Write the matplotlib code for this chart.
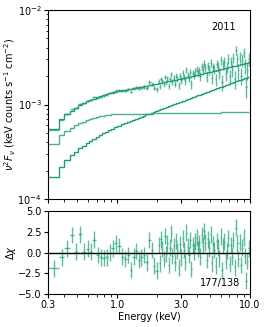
import numpy as np
import matplotlib
matplotlib.use("Agg")
import matplotlib.pyplot as plt
from matplotlib.ticker import FixedLocator, NullFormatter, LogLocator

# bin edges (keV)
edges = [0.30, 0.365, 0.40, 0.44, 0.475, 0.51, 0.545, 0.58, 0.615, 0.65,
         0.69, 0.73, 0.77, 0.81, 0.855, 0.90, 0.95, 1.00,
         1.06, 1.12, 1.18, 1.24, 1.30, 1.36, 1.42, 1.48, 1.55, 1.62,
         1.70, 1.78, 1.86, 1.94,
         2.02, 2.07, 2.11, 2.16, 2.21, 2.26, 2.31, 2.36, 2.41, 2.46,
         2.52, 2.57, 2.63, 2.69, 2.75, 2.81, 2.87, 2.94, 3.00, 3.07,
         3.14, 3.21, 3.28, 3.35, 3.43, 3.50, 3.58, 3.66, 3.74, 3.83,
         3.91, 4.00, 4.09, 4.18, 4.27, 4.37, 4.46, 4.56, 4.67, 4.77,
         4.88, 4.98, 5.10, 5.21, 5.32, 5.44, 5.56, 5.69, 5.82, 5.94,
         6.08, 6.21, 6.35, 6.49, 6.64, 6.79, 6.94, 7.09, 7.25, 7.41,
         7.58, 7.74, 7.92, 8.09, 8.27, 8.46, 8.65, 8.84, 9.04, 9.24,
         9.44, 9.65, 9.87]

# rising component (x1e-4 keV counts s-1 cm-2)
comp_pl = [1.70, 2.20, 2.59, 2.92, 3.17, 3.45, 3.67, 3.95, 4.15, 4.35,
           4.55, 4.75, 4.95, 5.12, 5.32, 5.52, 5.72,
           5.96, 6.17, 6.37, 6.56, 6.75, 6.93, 7.10, 7.28, 7.45, 7.63,
           7.84, 8.03, 8.22, 8.40, 8.58,
           8.74, 8.84, 8.94, 9.05, 9.15, 9.26, 9.36, 9.47, 9.57, 9.68,
           9.79, 9.90, 10.02, 10.14, 10.25, 10.37, 10.49, 10.61, 10.73, 10.86,
           10.99, 11.11, 11.24, 11.37, 11.50, 11.63, 11.76, 11.90, 12.04, 12.18,
           12.32, 12.46, 12.60, 12.75, 12.90, 13.04, 13.19, 13.35, 13.50, 13.66,
           13.81, 13.97, 14.14, 14.29, 14.45, 14.62, 14.79, 14.97, 15.14, 15.31,
           15.49, 15.66, 15.85, 16.03, 16.22, 16.41, 16.59, 16.78, 16.98, 17.17,
           17.37, 17.57, 17.77, 17.97, 18.18, 18.39, 18.61, 18.82, 19.04, 19.25,
           19.47, 19.70]

# flat component (x1e-4)
comp_flat = [3.82, 4.76, 5.28, 5.68, 6.02, 6.32, 6.58, 6.82, 7.02, 7.20,
             7.36, 7.50, 7.62, 7.72, 7.80, 7.86, 7.90,
             7.93, 7.96, 7.98, 8.00, 8.00, 8.01, 8.01, 8.02, 8.02, 8.02,
             8.03, 8.03, 8.03, 8.04, 8.04,
             8.04, 8.05, 8.05, 8.05, 8.06, 8.06, 8.06, 8.07, 8.07, 8.07,
             8.08, 8.08, 8.08, 8.09, 8.09, 8.09, 8.10, 8.10, 8.10, 8.11,
             8.11, 8.11, 8.12, 8.12, 8.12, 8.13, 8.13, 8.13, 8.14, 8.14,
             8.14, 8.15, 8.15, 8.16, 8.16, 8.16, 8.17, 8.17, 8.18, 8.18,
             8.19, 8.19, 8.20, 8.20, 8.21, 8.21, 8.22, 8.22, 8.23, 8.23,
             8.24, 8.24, 8.25, 8.25, 8.26, 8.26, 8.27, 8.27, 8.28, 8.28,
             8.29, 8.29, 8.30, 8.30, 8.31, 8.31, 8.32, 8.32, 8.33, 8.33,
             8.34, 8.34]

# residuals, delta chi
resid = [-1.9, -0.6, 0.5, 2.1, 0.1, 2.2, 0.1, 0.45, 0.1, 1.55,
         -0.3, -0.6, -0.65, -0.6, 0.0, 0.5, 1.1,
         0.8, -0.5, -0.8, -0.3, -2.1, -0.5, 0.2, -0.9, -0.6, -0.3,
         -1.2, 1.5, 0.3, -1.6, -2.2,
         0.9, -1.3, 1.6, 0.4, -0.8, 2.0, -0.2, 1.1, -1.5, 0.6,
         2.3, -0.4, 0.8, -1.2, 1.4, 0.2, -1.8, 1.0,
         -0.6, 1.7, 0.3, -1.1, 2.4, 0.7, -0.3, 1.5, -2.0, 0.9, 0.1, 1.3,
         1.8, 0.4, 1.1, -0.5, 2.1, 0.9, 2.6, 1.2, -0.9, 1.6,
         0.5, 2.2, -1.3, 1.0, 0.3,
         -1.6, 1.4, 0.6, -0.7, 1.9, -2.1, 0.8, 1.3, -1.0, 0.2,
         1.7, -1.4, 0.9, -0.5, 1.5, -1.8, 3.0, 1.1,
         -0.8, 1.2, -1.5, 0.6, 1.8, -0.4, -3.4, -1.0, 0.5]

# fractional flux error per bin
flux_relerr = [0.012, 0.013, 0.014, 0.015, 0.016, 0.017, 0.018, 0.019, 0.020, 0.021,
               0.022, 0.023, 0.024, 0.025, 0.026, 0.027, 0.028,
               0.030, 0.031, 0.032, 0.033, 0.034, 0.036, 0.038, 0.040, 0.042, 0.044,
               0.046, 0.048, 0.050, 0.053, 0.056,
               0.060, 0.062, 0.061, 0.064, 0.063, 0.066, 0.065, 0.068, 0.067, 0.070,
               0.071, 0.070, 0.073, 0.074, 0.073, 0.076, 0.077, 0.078, 0.077, 0.080,
               0.081, 0.080, 0.083, 0.084, 0.083, 0.086, 0.087, 0.088, 0.087, 0.090,
               0.092, 0.094, 0.096, 0.098, 0.097, 0.101, 0.104, 0.106, 0.105, 0.109,
               0.112, 0.111, 0.115, 0.118, 0.117, 0.121, 0.124, 0.126, 0.125, 0.129,
               0.132, 0.131, 0.135, 0.138, 0.137, 0.141, 0.144, 0.146, 0.145, 0.149,
               0.152, 0.151, 0.155, 0.158, 0.157, 0.161, 0.164, 0.166, 0.165, 0.130,
               0.170, 0.172]

col = "#1b9e77"

edges = np.array(edges)
lo, hi = edges[:-1], edges[1:]
ctr = 0.5 * (lo + hi)
pl = np.array(comp_pl) * 1e-4
flat = np.array(comp_flat) * 1e-4
total = pl + flat
ferr = np.array(flux_relerr) * total
resid = np.array(resid)
flux = total + resid * ferr

fig = plt.figure(figsize=(2.66, 3.27), dpi=100)
ax1 = fig.add_axes([0.180, 0.3914, 0.760, 0.578])
ax2 = fig.add_axes([0.180, 0.1009, 0.760, 0.2538])

fs = 7
ax1.errorbar(ctr, flux, xerr=[ctr - lo, hi - ctr], yerr=ferr, fmt="none",
             ecolor=col, alpha=0.7, elinewidth=1.0)
ax1.stairs(total, edges, color=col, lw=1.0, baseline=None)
ax1.stairs(pl, edges, color=col, lw=1.0, baseline=None)
ax1.stairs(flat, edges, color=col, lw=1.0, alpha=0.8, baseline=None)
ax1.set_xscale("log")
ax1.set_yscale("log")
ax1.set_xlim(0.3, 10)
ax1.set_ylim(1e-4, 1e-2)
ax1.set_ylabel(r"$\nu^2F_\nu$ (keV counts s$^{-1}$ cm$^{-2}$)", fontsize=fs)
ax1.text(0.87, 0.91, "2011", transform=ax1.transAxes, ha="center", va="center", fontsize=fs)

ax2.errorbar(ctr, resid, xerr=[ctr - lo, hi - ctr], yerr=np.ones_like(resid), fmt="none",
             ecolor=col, alpha=0.7, elinewidth=1.0)
ax2.axhline(0, color="black", lw=1.0)
ax2.set_xscale("log")
ax2.set_xlim(0.3, 10)
ax2.set_ylim(-5, 5)
ax2.set_yticks([-5, -2.5, 0, 2.5, 5])
ax2.set_yticklabels(["\u22125.0", "\u22122.5", "0.0", "2.5", "5.0"])
ax2.set_ylabel(r"$\Delta\chi$", fontsize=fs)
ax2.set_xlabel("Energy (keV)", fontsize=fs, labelpad=1)
ax2.text(0.85, 0.13, "177/138", transform=ax2.transAxes, ha="center", va="center", fontsize=fs)

for ax in (ax1, ax2):
    ax.xaxis.set_major_locator(FixedLocator([0.3, 1.0, 3.0, 10.0]))
    ax.xaxis.set_minor_locator(FixedLocator([0.4, 0.5, 0.6, 0.7, 0.8, 0.9, 2, 4, 5, 6, 7, 8, 9]))
    ax.xaxis.set_minor_formatter(NullFormatter())
    ax.tick_params(labelsize=fs, length=3, pad=1.5)
    ax.tick_params(which="minor", length=1.8)
ax1.xaxis.set_major_formatter(NullFormatter())
ax2.set_xticklabels(["0.3", "1.0", "3.0", "10.0"])
ax1.yaxis.set_minor_locator(LogLocator(base=10, subs=np.arange(2, 10)))
ax1.yaxis.set_minor_formatter(NullFormatter())
ax1.yaxis.set_label_coords(-0.15, 0.5)
ax2.yaxis.set_label_coords(-0.15, 0.5)

fig.savefig("out.png", dpi=100)
